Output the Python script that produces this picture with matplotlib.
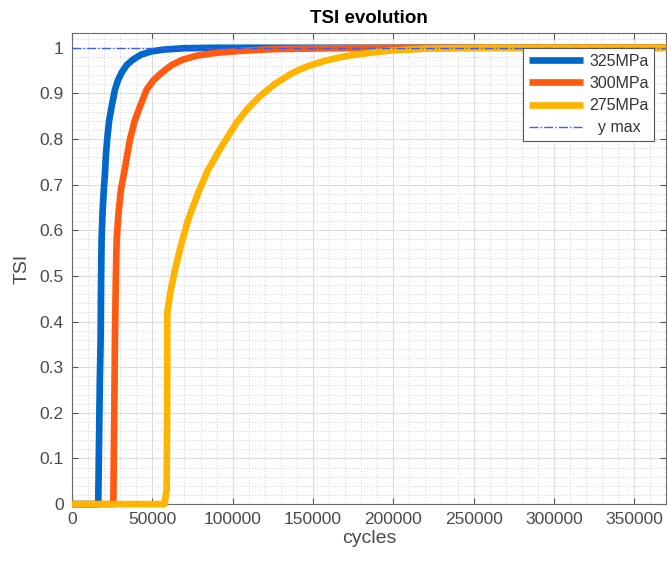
import numpy as np
import matplotlib
matplotlib.use('Agg')
import matplotlib.pyplot as plt
from matplotlib.ticker import MultipleLocator

plt.rcParams['font.family'] = ['Liberation Sans', 'DejaVu Sans']

# TSI curves per stress level (cycles, TSI)
cycles_325 = [0, 16300, 17300, 17800, 18100, 18400, 19000, 19800, 20500, 21100,
              21900, 23100, 24600, 26700, 28500, 30800, 34000, 37900, 43000,
              49500, 57000, 70000, 90000, 370000]
tsi_325 = [0, 0, 0.27, 0.36, 0.50, 0.58, 0.64, 0.69, 0.725, 0.765,
           0.80, 0.84, 0.87, 0.908, 0.928, 0.945, 0.962, 0.974, 0.985,
           0.992, 0.996, 0.999, 1.0, 1.0]

cycles_300 = [0, 25700, 26300, 26700, 27300, 27800, 29000, 30500, 32900, 36000,
              39000, 42200, 46400, 50500, 55700, 62000, 69000, 78000, 90000,
              104000, 125000, 160000, 200000, 370000]
tsi_300 = [0, 0, 0.20, 0.36, 0.50, 0.58, 0.64, 0.69, 0.735, 0.798,
           0.84, 0.870, 0.908, 0.928, 0.945, 0.962, 0.974, 0.983, 0.989,
           0.993, 0.997, 0.999, 1.0, 1.0]

cycles_275 = [0, 57500, 58900, 59200, 59300, 61000, 64000, 68100, 72200, 78400,
              84600, 93000, 102300, 109000, 116700, 126000, 137300, 147000,
              158000, 168000, 178800, 190000, 199400, 210000, 220000, 240000,
              260000, 370000]
tsi_275 = [0, 0, 0.03, 0.20, 0.42, 0.46, 0.512, 0.571, 0.622, 0.681,
           0.732, 0.783, 0.835, 0.865, 0.893, 0.920, 0.945, 0.960,
           0.972, 0.980, 0.986, 0.991, 0.994, 0.996, 0.998, 0.999,
           1.0, 1.0]

y_max = 1.0
x_end = 370000

fig = plt.figure(figsize=(6.67, 5.62), dpi=100)
ax = fig.add_axes([0.108, 0.103, 0.891, 0.838])

line_kw = dict(lw=4.8, solid_joinstyle='round', solid_capstyle='butt',
               clip_on=False, zorder=3)
ax.plot(cycles_325, tsi_325, color='#0068C8', label='325MPa', **line_kw)
ax.plot(cycles_300, tsi_300, color='#FF5A10', label='300MPa', **line_kw)
ax.plot(cycles_275, tsi_275, color='#FFB400', label='275MPa', **line_kw)
ax.plot([0, x_end], [y_max, y_max], color='#3A5EF0', lw=1.0, ls='-.',
        label='  y max', zorder=3)

ax.set_xlim(0, x_end)
ax.set_ylim(0, 1.032)
ax.xaxis.set_major_locator(MultipleLocator(50000))
ax.xaxis.set_minor_locator(MultipleLocator(10000))
ax.yaxis.set_minor_locator(MultipleLocator(0.02))
ax.set_yticks(np.arange(0, 1.01, 0.1))
ax.set_yticklabels(['0', '0.1', '0.2', '0.3', '0.4', '0.5', '0.6', '0.7',
                    '0.8', '0.9', '1'])

ax.grid(which='major', color='#dcdcdc', lw=0.8, ls='-')
ax.grid(which='minor', color='#d8d8d8', lw=0.8, ls=':')
ax.set_axisbelow(True)

for sp in ax.spines.values():
    sp.set_color('#6a6a6a')
    sp.set_linewidth(0.8)
ax.tick_params(which='major', direction='in', top=True, right=True,
               length=4, width=0.8, color='#555555',
               labelsize=12.5, labelcolor='#4a4a4a', pad=6)
ax.tick_params(which='minor', length=0, top=True, right=True)

ax.set_xlabel('cycles', fontsize=14, color='#4a4a4a', labelpad=2)
ax.set_ylabel('TSI', fontsize=14, color='#4a4a4a', labelpad=6)
ax.set_title('TSI evolution', fontsize=13.5, fontweight='bold', pad=7)

leg = ax.legend(loc='upper right', bbox_to_anchor=(0.98, 0.968),
                fontsize=11.5, handlelength=3.4, handletextpad=0.4,
                borderpad=0.35, labelspacing=0.45, fancybox=False,
                framealpha=1, borderaxespad=0)
leg.set_zorder(5)
leg.get_frame().set_edgecolor('#555555')
leg.get_frame().set_linewidth(0.8)
for t in leg.get_texts():
    t.set_color('#333333')

fig.savefig('out.png', dpi=100)
